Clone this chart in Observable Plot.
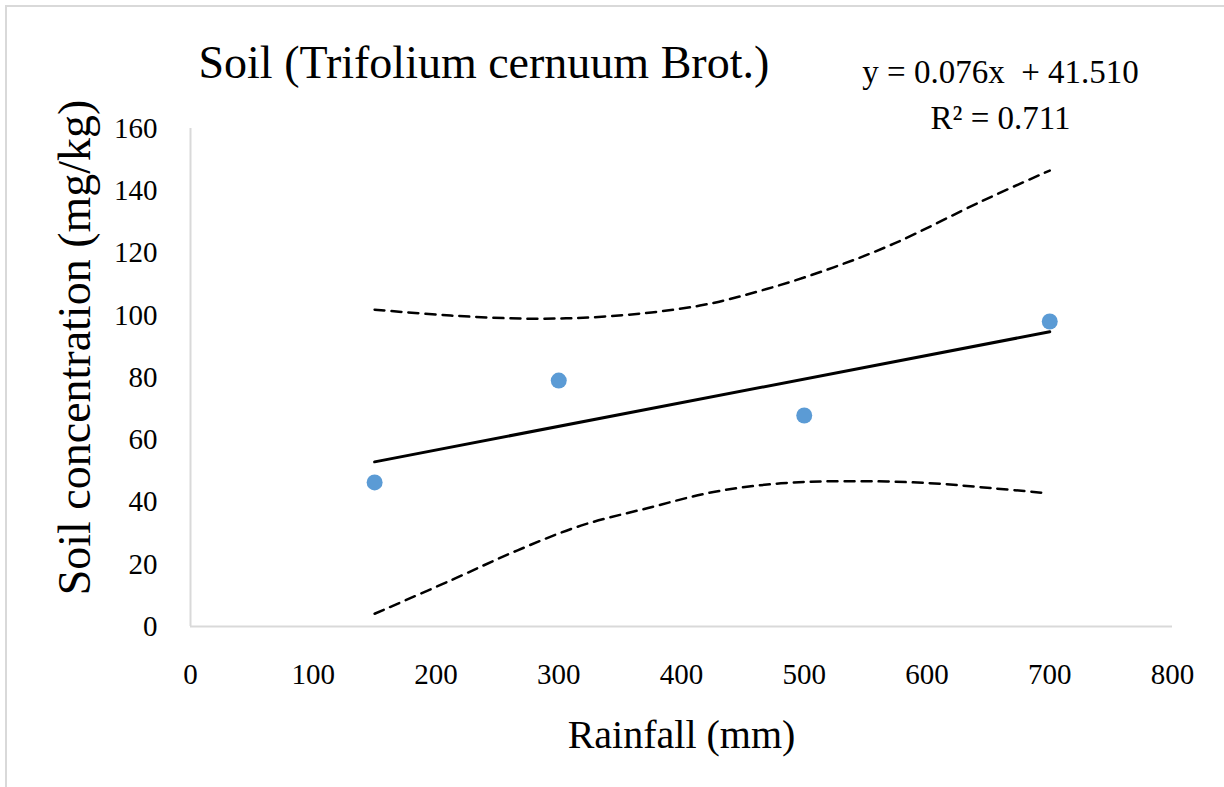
<!DOCTYPE html>
<html>
<head>
<meta charset="utf-8">
<script src="https://cdn.jsdelivr.net/npm/d3@7"></script>
<script src="https://cdn.jsdelivr.net/npm/@observablehq/plot@0.6"></script>
<style>
  html, body { margin: 0; padding: 0; background: #fff; }
  #frame { position: absolute; left: 5px; top: 5px; width: 1230px; height: 790px; border-top: 2px solid #d9d9d9; border-left: 2px solid #d9d9d9; box-sizing: border-box; }
  #chart { position: absolute; left: 0; top: 0; }
  #chart svg, #chart svg text { font-family: 'Liberation Serif', 'DejaVu Serif', serif !important; font-variant: normal !important; font-variant-numeric: normal !important; }
</style>
</head>
<body>
<div id="frame"></div>
<div id="chart"></div>
<script>
// Observed data
const rainfall = [150, 300, 500, 700];
const soil = [46.3, 79.0, 67.8, 98.0];

// Linear trend line endpoints
const trendX = [150, 700];
const trendY = [52.9, 94.7];

// Upper confidence band
const upperX = [150, 212, 279, 342, 415, 470, 524, 573, 646, 700];
const upperY = [101.8, 99.9, 98.9, 99.7, 103.1, 108.5, 115.4, 123.0, 136.9, 146.5];

// Lower confidence band
const lowerX = [150, 212, 266, 318, 372, 426, 481, 535, 600, 654, 693];
const lowerY = [4.1, 14.8, 24.4, 32.4, 38.0, 43.2, 46.0, 46.7, 46.1, 44.4, 43.0];

// Axis ticks
const xTicks = [0, 100, 200, 300, 400, 500, 600, 700, 800];
const yTicks = [0, 20, 40, 60, 80, 100, 120, 140, 160];

const titleText = "Soil (Trifolium cernuum Brot.)";
const eqText = ["y = 0.076x  + 41.510", "R² = 0.711"];
const xLabel = "Rainfall (mm)";
const yLabel = "Soil concentration (mg/kg)";

const points = rainfall.map((x, i) => ({x, y: soil[i]}));
const trend = trendX.map((x, i) => ({x, y: trendY[i]}));
const upper = upperX.map((x, i) => ({x, y: upperY[i]}));
const lower = lowerX.map((x, i) => ({x, y: lowerY[i]}));

const font = "'Liberation Serif', 'DejaVu Serif', serif";

const chart = Plot.plot({
  width: 1224,
  height: 787,
  marginLeft: 190,
  marginRight: 52,
  marginTop: 128,
  marginBottom: 161,
  style: { fontFamily: font, background: "transparent", color: "#000" },
  x: { domain: [0, 800], label: null },
  y: { domain: [0, 160], label: null },
  marks: [
    Plot.axisX({ ticks: xTicks, tickSize: 0, tickPadding: 37, fontSize: 29, fontFamily: font, fontVariant: "normal", label: null }),
    Plot.axisY({ ticks: yTicks, tickSize: 0, tickPadding: 33, fontSize: 29, fontFamily: font, fontVariant: "normal", label: null }),
    Plot.ruleY([0], { stroke: "#d9d9d9", strokeWidth: 2 }),
    Plot.ruleX([0], { stroke: "#d9d9d9", strokeWidth: 2 }),
    Plot.line(upper, { x: "x", y: "y", stroke: "#000", strokeWidth: 2.5, strokeDasharray: "10,7", curve: "catmull-rom" }),
    Plot.line(lower, { x: "x", y: "y", stroke: "#000", strokeWidth: 2.5, strokeDasharray: "10,7", curve: "catmull-rom" }),
    Plot.line(trend, { x: "x", y: "y", stroke: "#000", strokeWidth: 3 }),
    Plot.dot(points, { x: "x", y: "y", r: 8, fill: "#5b9bd5", stroke: "none" }),
    Plot.text([titleText], { frameAnchor: "top-left", textAnchor: "start", dx: 8, dy: -83, fontSize: 46, fontFamily: font, fill: "#000" }),
    Plot.text([eqText[0]], { frameAnchor: "top-right", textAnchor: "middle", dx: -172, dy: -69, fontSize: 33, fontFamily: font, fill: "#000" }),
    Plot.text([eqText[1]], { frameAnchor: "top-right", textAnchor: "middle", dx: -172, dy: -23, fontSize: 33, fontFamily: font, fill: "#000" }),
    Plot.text([xLabel], { frameAnchor: "bottom", textAnchor: "middle", dy: 121, fontSize: 40, fontFamily: font, fill: "#000" }),
    Plot.text([yLabel], { frameAnchor: "left", textAnchor: "middle", rotate: -90, dx: -115, dy: -30, fontSize: 46, fontFamily: font, fill: "#000" })
  ]
});
document.getElementById("chart").appendChild(chart);
</script>
</body>
</html>
